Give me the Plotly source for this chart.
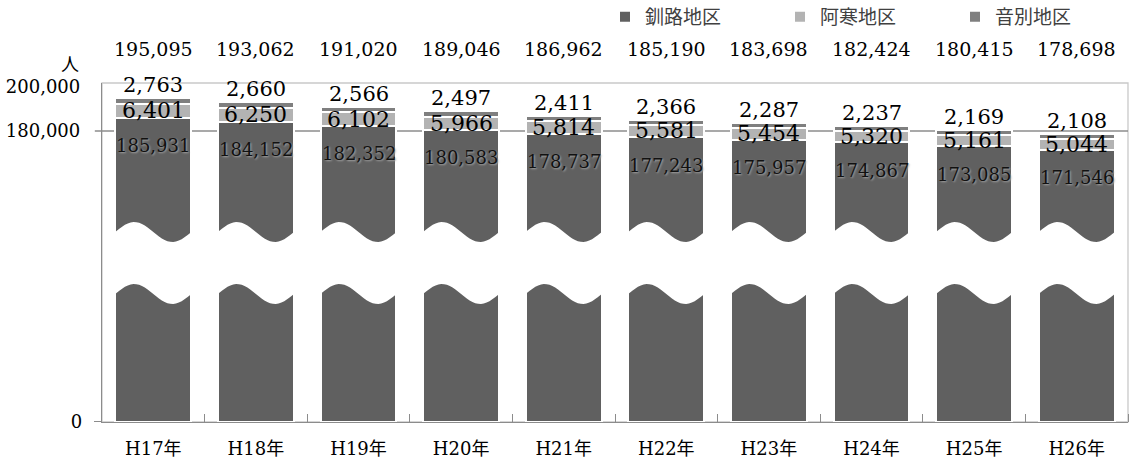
import math
import plotly.graph_objects as go

# 年次別人口（地区別）
years = ["H17年", "H18年", "H19年", "H20年", "H21年", "H22年", "H23年", "H24年", "H25年", "H26年"]
kushiro = [185931, 184152, 182352, 180583, 178737, 177243, 175957, 174867, 173085, 171546]
akan = [6401, 6250, 6102, 5966, 5814, 5581, 5454, 5320, 5161, 5044]
onbetsu = [2763, 2660, 2566, 2497, 2411, 2366, 2287, 2237, 2169, 2108]

series_names = ["釧路地区", "阿寒地区", "音別地区"]
series_colors = ["#606060", "#b3b3b3", "#7f7f7f"]

W, H = 1141, 462
ML, MR, MT, MB = 102, 13, 83, 40
PLOT_H = H - MT - MB
SPLIT = 0.466          # boundary between the lower (0..) and upper (120k..) panels
BAR_W = 0.74

SERIF = "DejaVu Serif, Noto Sans CJK JP, serif"
SANS_JP = "Noto Sans CJK JP, Noto Sans, sans-serif"

xpos = list(range(len(years)))
totals = [a + b + c for a, b, c in zip(kushiro, akan, onbetsu)]

fig = go.Figure()

# Stacked bars drawn in both panels of the broken axis
for name, vals, color in zip(series_names, [kushiro, akan, onbetsu], series_colors):
    for ax in ["y", "y2"]:
        fig.add_trace(go.Bar(
            x=xpos, y=vals, name=name, yaxis=ax,
            width=BAR_W,
            marker=dict(color=color, line=dict(color="white", width=2)),
            showlegend=(ax == "y2"), legendgroup=name,
            hoverinfo="skip",
        ))


def py(ypix):
    """pixel row inside the figure -> paper y"""
    return (H - MB - ypix) / PLOT_H


# Wavy white band marking the axis break on every bar
shapes = []
for i in xpos:
    left = i - BAR_W / 2
    n = 30
    pts_top, pts_bot = [], []
    for k in range(n + 1):
        t = -0.06 + 1.12 * k / n
        x = left + BAR_W * t
        off = -10 * math.sin(2 * math.pi * t)
        pts_top.append((x, py(232 + off)))
        pts_bot.append((x, py(294 + off)))
    path = "M " + " L ".join(f"{x:.4f},{y:.4f}" for x, y in pts_top)
    path += " L " + " L ".join(f"{x:.4f},{y:.4f}" for x, y in reversed(pts_bot)) + " Z"
    shapes.append(dict(type="path", path=path, xref="x", yref="paper",
                       fillcolor="white", line=dict(width=0), layer="above"))

# plot frame and the 180,000 reference line
shapes.append(dict(type="rect", xref="paper", yref="paper", x0=0, x1=1, y0=0, y1=1,
                   line=dict(color="#c9c9c9", width=1.3), layer="below"))
shapes.append(dict(type="line", xref="paper", yref="y2", x0=-0.007, x1=1,
                   y0=180000, y1=180000, line=dict(color="#8c8c8c", width=1.3),
                   layer="below"))

annotations = []
for i, (k, a, o, t) in enumerate(zip(kushiro, akan, onbetsu, totals)):
    # total above the chart
    annotations.append(dict(x=i, y=py(49), xref="x", yref="paper", text=f"{t:,}",
                            showarrow=False, yanchor="middle",
                            font=dict(family=SERIF, size=19, color="#000")))
    # 音別地区 value just above the bar
    annotations.append(dict(x=i, y=t, xref="x", yref="y2", text=f"{o:,}",
                            showarrow=False, yanchor="bottom", yshift=-1,
                            font=dict(family=SERIF, size=21, color="#000")))
    # 阿寒地区 value in its segment
    annotations.append(dict(x=i, y=k + a / 2, xref="x", yref="y2", text=f"{a:,}",
                            showarrow=False, yanchor="middle",
                            font=dict(family=SERIF, size=22, color="#000")))
    # 釧路地区 value inside the dark segment
    annotations.append(dict(x=i, y=k, xref="x", yref="y2", text=f"{k:,}",
                            showarrow=False, yanchor="middle", yshift=-28,
                            font=dict(family=SERIF, size=18, color="#111",
                                      shadow="1px 1px 2px #a8a8a8")))

annotations.append(dict(x=-0.031, y=py(63), xref="paper", yref="paper", text="人",
                        showarrow=False, xanchor="center", yanchor="middle",
                        font=dict(family=SANS_JP, size=18, color="#000")))

fig.update_layout(
    width=W, height=H,
    margin=dict(l=ML, r=MR, t=MT, b=MB, autoexpand=False),
    paper_bgcolor="white", plot_bgcolor="white",
    barmode="stack",
    xaxis=dict(
        range=[-0.5, len(years) - 0.5],
        tickvals=xpos, ticktext=years, ticks="",
        showline=True, linecolor="#8c8c8c", linewidth=1.3,
        showgrid=False, zeroline=False,
        ticklabelstandoff=10,
        tickfont=dict(family=SERIF, size=18, color="#000"),
        minor=dict(tickvals=[i + 0.5 for i in xpos], ticks="inside",
                   ticklen=8, tickcolor="#8c8c8c", tickwidth=1.3, showgrid=False),
    ),
    yaxis=dict(
        domain=[0, SPLIT], range=[0, 97700],
        tickvals=[0], ticktext=["0"],
        ticks="outside", ticklen=7, tickcolor="#8c8c8c", tickwidth=1.3,
        showline=True, linecolor="#8c8c8c", linewidth=1.3,
        showgrid=False, zeroline=False,
        ticklabelstandoff=8,
        tickfont=dict(family=SERIF, size=18, color="#000"),
    ),
    yaxis2=dict(
        domain=[SPLIT, 1], anchor="x", range=[119545, 201818],
        tickvals=[180000, 200000], ticktext=["180,000", "200,000"],
        ticks="",
        showline=True, linecolor="#8c8c8c", linewidth=1.3,
        showgrid=False, zeroline=False,
        ticklabelstandoff=17,
        tickfont=dict(family=SERIF, size=18, color="#000"),
    ),
    legend=dict(
        orientation="h", traceorder="normal",
        x=(605 - ML) / (W - ML - MR), xanchor="left",
        y=py(17), yanchor="middle",
        entrywidth=130, entrywidthmode="pixels",
        font=dict(family=SANS_JP, size=19, color="#404040"),
        bgcolor="rgba(0,0,0,0)",
    ),
    shapes=shapes,
    annotations=annotations,
)

fig.write_html("out.html")
